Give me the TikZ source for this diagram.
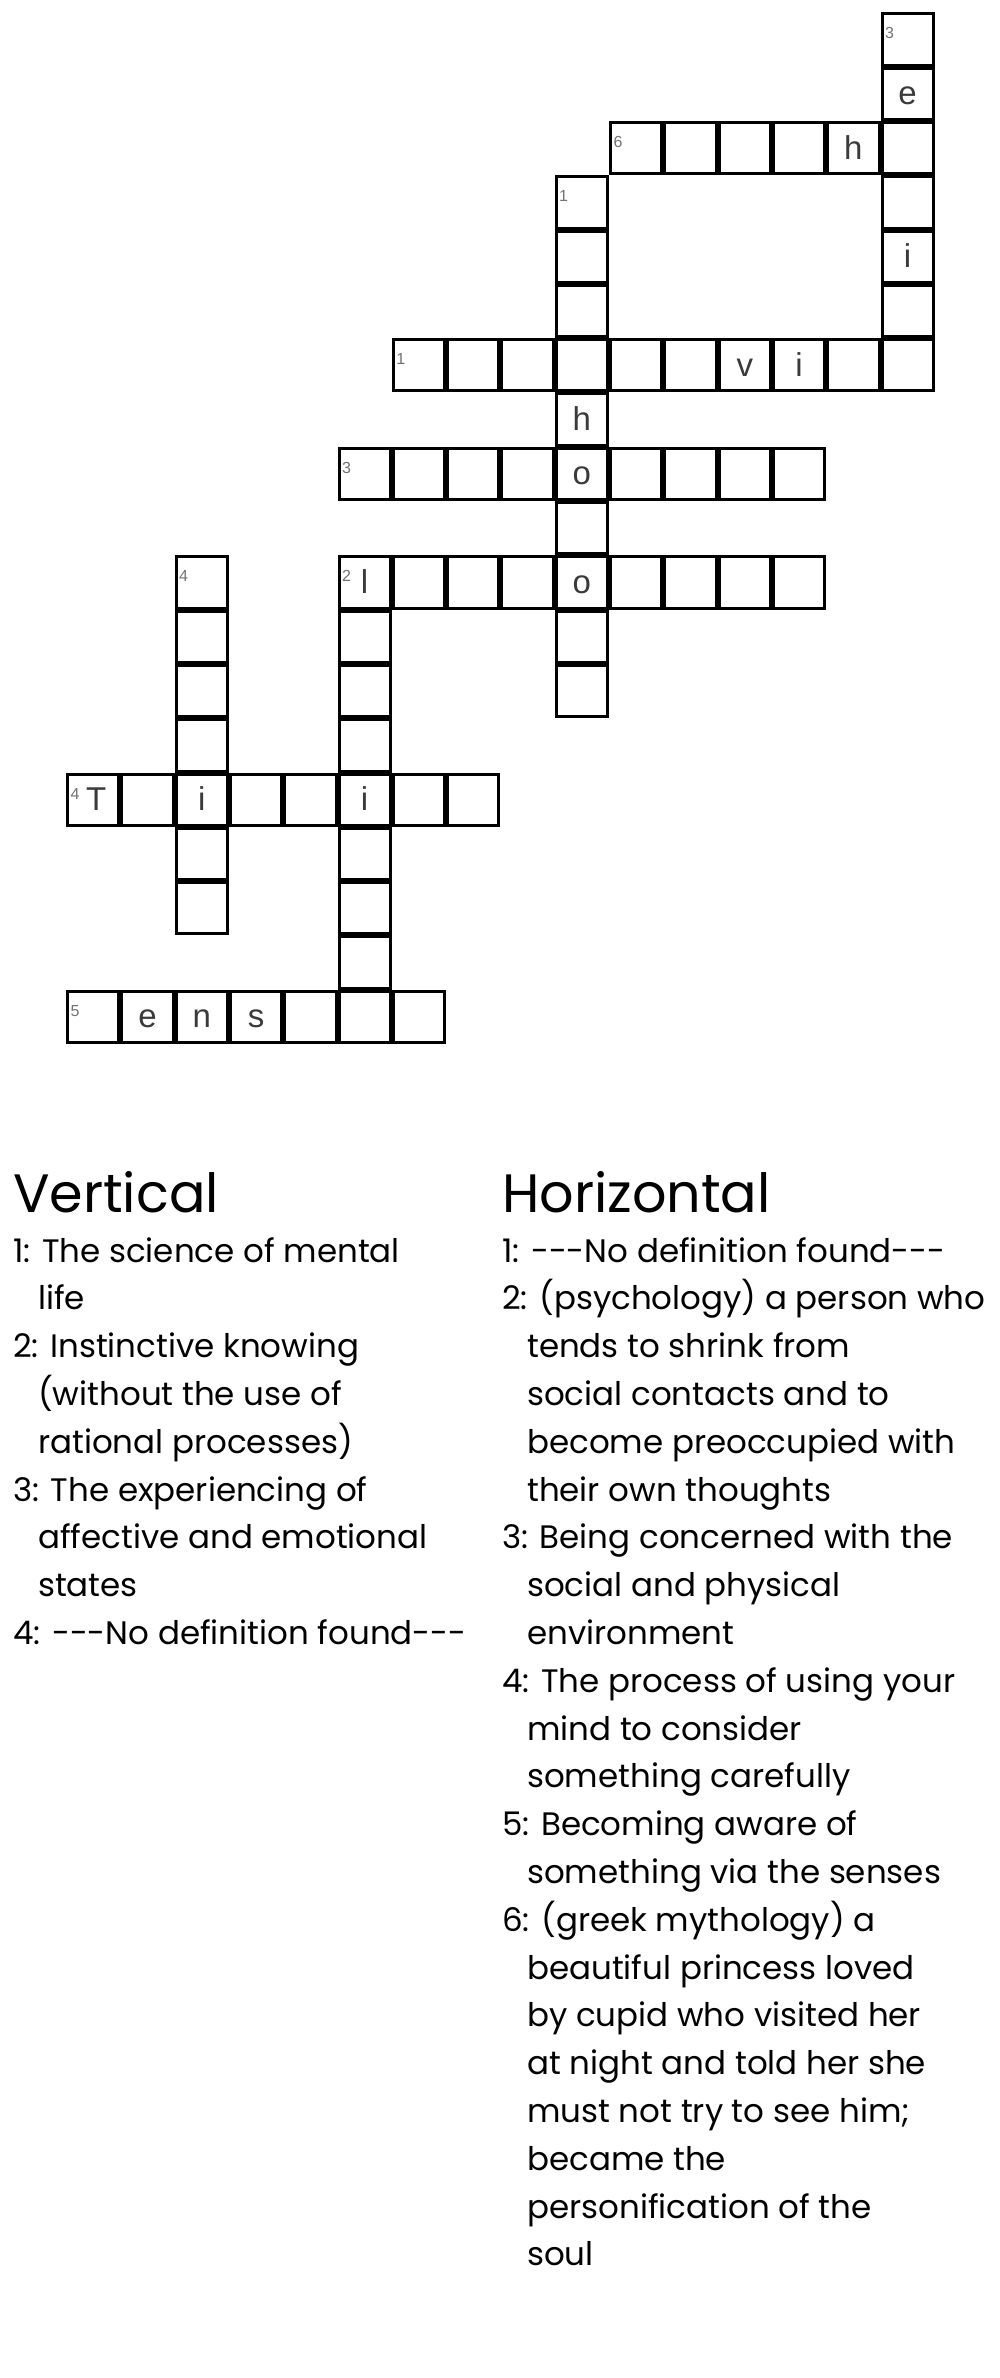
\documentclass[tikz,border=0pt]{standalone}
\usepackage{fontspec}
\setmainfont{Poppins}
\newfontfamily\gridfont{Liberation Sans}
\usetikzlibrary{positioning}
\definecolor{lettergray}{HTML}{3A3A3A}
\definecolor{numgray}{HTML}{727272}

\begin{document}
\begin{tikzpicture}[
  x=1pt,y=-1pt,
  cellbox/.style={
    draw=black,line width=3pt,minimum size=51.3pt,
    inner sep=0pt,outer sep=0pt,
    },
  letter/.style={font=\gridfont\fontsize{33}{33}\selectfont,text=lettergray,
    inner sep=0pt,anchor=base},
  numlabel/.style={font=\gridfont\fontsize{16}{16}\selectfont,text=numgray,
    inner sep=0pt,anchor=base west},
  heading/.style={font=\fontsize{54}{54}\selectfont,inner sep=0pt,anchor=base west},
  clue/.style={font=\fontsize{32.5}{32.5}\selectfont,inner sep=0pt,anchor=base west},
  ]
  \useasboundingbox (0,0) rectangle (1000,2378);

  % horizontal words: name/column/row/length
  \foreach \w/\c/\r/\n in {h6/10/2/6, h1/6/6/10, h3/5/8/9, h2/5/10/9, h4/0/14/8, h5/0/18/7}
    \foreach \j in {1,...,\n}
      \node[cellbox] (\w-\j) at ({66+54.3*(\c+\j-0.5)}, {12.3+54.3*(\r+0.5)}) {};
  % vertical words
  \foreach \w/\c/\r/\n in {v3/15/0/7, v1/9/3/10, v4/2/10/7, v2/5/10/8}
    \foreach \j in {1,...,\n}
      \node[cellbox] (\w-\j) at ({66+54.3*(\c+0.5)}, {12.3+54.3*(\r+\j-0.5)}) {};

  % numbers
  \node[numlabel] (n-v3) at ([xshift=2.8pt,yshift=-25pt]v3-1.north west) {3};
  \node[numlabel] (n-h6) at ([xshift=2.8pt,yshift=-25pt]h6-1.north west) {6};
  \node[numlabel] (n-v1) at ([xshift=2.8pt,yshift=-25pt]v1-1.north west) {1};
  \node[numlabel] (n-h1) at ([xshift=2.8pt,yshift=-25pt]h1-1.north west) {1};
  \node[numlabel] (n-h3) at ([xshift=2.8pt,yshift=-25pt]h3-1.north west) {3};
  \node[numlabel] (n-h2) at ([xshift=2.8pt,yshift=-25pt]h2-1.north west) {2};
  \node[numlabel] (n-v4) at ([xshift=2.8pt,yshift=-25pt]v4-1.north west) {4};
  \node[numlabel] (n-h4) at ([xshift=2.8pt,yshift=-25pt]h4-1.north west) {4};
  \node[numlabel] (n-h5) at ([xshift=2.8pt,yshift=-25pt]h5-1.north west) {5};

  % letters
  \node[letter] (l-e1) at ([yshift=-11pt]v3-2.center) {e};
  \node[letter] (l-i1) at ([yshift=-11pt]v3-5.center) {i};
  \node[letter] (l-h1) at ([yshift=-11pt]h6-5.center) {h};
  \node[letter] (l-v1) at ([yshift=-11pt]h1-7.center) {v};
  \node[letter] (l-i2) at ([yshift=-11pt]h1-8.center) {i};
  \node[letter] (l-h2) at ([yshift=-11pt]v1-5.center) {h};
  \node[letter] (l-o1) at ([yshift=-11pt]v1-6.center) {o};
  \node[letter] (l-o2) at ([yshift=-11pt]v1-8.center) {o};
  \node[letter] (l-l1) at ([yshift=-11pt]h2-1.center) {l};
  \node[letter] (l-T1) at ([xshift=3pt,yshift=-11pt]h4-1.center) {T};
  \node[letter] (l-i3) at ([yshift=-11pt]h4-3.center) {i};
  \node[letter] (l-i4) at ([yshift=-11pt]h4-6.center) {i};
  \node[letter] (l-e2) at ([yshift=-11pt]h5-2.center) {e};
  \node[letter] (l-n1) at ([yshift=-11pt]h5-3.center) {n};
  \node[letter] (l-s1) at ([yshift=-11pt]h5-4.center) {s};

  % clues
  \node[heading] (vert) at (13,1212) {Vertical};
  \node[heading] (horiz) at (502,1212) {Horizontal};
  \foreach \dx/\txt [count=\i] in {
    0/{1: The science of mental},
    25/{life},
    0/{2: Instinctive knowing},
    25/{(without the use of},
    25/{rational processes)},
    0/{3: The experiencing of},
    25/{affective and emotional},
    25/{states},
    0/{4: -{}-{}-No definition found-{}-{}-}}
    \node[clue] (vc-\i) at ({13+\dx}, {1262+47.8*(\i-1)}) {\txt};
  \foreach \dx/\txt [count=\i] in {
    0/{1: -{}-{}-No definition found-{}-{}-},
    0/{2: (psychology) a person who},
    25/{tends to shrink from},
    25/{social contacts and to},
    25/{become preoccupied with},
    25/{their own thoughts},
    0/{3: Being concerned with the},
    25/{social and physical},
    25/{environment},
    0/{4: The process of using your},
    25/{mind to consider},
    25/{something carefully},
    0/{5: Becoming aware of},
    25/{something via the senses},
    0/{6: (greek mythology) a},
    25/{beautiful princess loved},
    25/{by cupid who visited her},
    25/{at night and told her she},
    25/{must not try to see him;},
    25/{became the},
    25/{personification of the},
    25/{soul}}
    \node[clue] (hc-\i) at ({502+\dx}, {1262+47.8*(\i-1)}) {\txt};
\end{tikzpicture}
\end{document}
